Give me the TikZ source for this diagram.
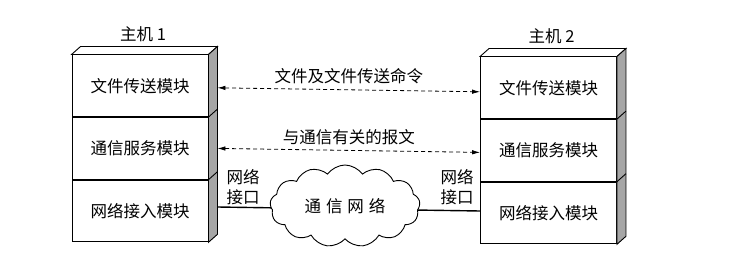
\documentclass[tikz,border=0pt]{standalone}
\usepackage{fontspec}
\newfontfamily\cjk{Noto Sans CJK SC}
\usetikzlibrary{shapes.symbols, arrows.meta, positioning}

\begin{document}
\begin{tikzpicture}[
    x=1pt, y=-1pt,
    every node/.style={font=\cjk\fontsize{16.5}{20}\selectfont},
    layer/.style={
        rectangle,
        draw=black,
        fill=white,
        line width=0.9pt,
        inner sep=0pt,
        minimum width=136pt,
        minimum height=61.7pt
    },
    side/.style={draw=black, line width=0.9pt, fill=black!35},
    lid/.style={draw=black, line width=0.9pt, fill=white},
    msg/.style={{Latex[length=8pt,width=4.5pt]}-{Latex[length=8pt,width=4.5pt]}, dash pattern=on 4pt off 3pt, line width=0.8pt},
    link/.style={line width=1.4pt}
]
    \useasboundingbox (0,0) rectangle (744,270);

    % Host 1: three layers stacked
    \node[layer] (l1) at (140,85.8) {文件传送模块};
    \node[layer, below=0pt of l1] (l2) {通信服务模块};
    \node[layer, below=0pt of l2] (l3) {网络接入模块};

    % Host 2: three layers stacked
    \node[layer] (r1) at (548.5,87.8) {文件传送模块};
    \node[layer, below=0pt of r1] (r2) {通信服务模块};
    \node[layer, below=0pt of r2] (r3) {网络接入模块};

    % 3D faces of both stacks
    \foreach \s in {l,r}{
        \draw[lid] (\s1.north west) -- ++(9,-8) -- ([shift={(9,-8)}]\s1.north east) -- (\s1.north east) -- cycle;
        \draw[side] (\s1.north east) -- ++(9,-8) -- ([shift={(9,-8)}]\s3.south east) -- (\s3.south east) -- cycle;
        \draw[line width=0.9pt] (\s1.south east) -- ++(9,-8);
        \draw[line width=0.9pt] (\s2.south east) -- ++(9,-8);
    }

    % Host titles
    \node[above=9pt of l1.north, xshift=3pt] (h1) {主机 1};
    \node[above=9pt of r1.north, xshift=3pt] (h2) {主机 2};

    % Peer messages
    \draw[msg] ([xshift=9pt,yshift=-2pt]l1.east) -- node[above=2pt] (m1) {文件及文件传送命令} ([yshift=-4pt]r1.west);
    \draw[msg] ([xshift=9pt,yshift=0pt]l2.east) -- node[above=2pt] (m2) {与通信有关的报文} ([yshift=-2pt]r2.west);

    % Network link between the two hosts, behind the cloud
    \draw[link] ([xshift=9pt,yshift=4pt]l3.east) -- ([yshift=2pt]r3.west);
    \node[cloud, cloud puffs=13, cloud puff arc=110, aspect=1.9, draw, fill=white, line width=0.9pt,
          minimum width=150pt, minimum height=82pt, inner sep=0pt] (net) at (345,206)
          {通\hspace{0.3em}信\hspace{0.3em}网\hspace{0.3em}络};

    % Interface labels
    \node[align=center] (nif1) at (243,187) {网络\\接口};
    \node[align=center] (nif2) at (457,187) {网络\\接口};
\end{tikzpicture}
\end{document}
